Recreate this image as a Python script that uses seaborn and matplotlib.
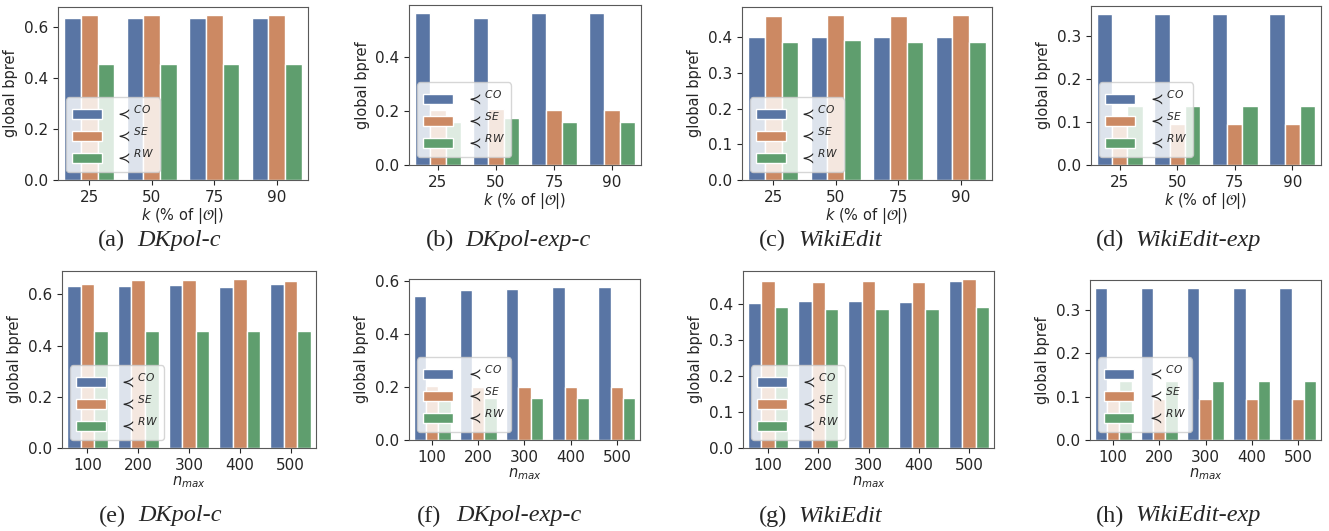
import pandas as pd
import matplotlib
matplotlib.use("Agg")
import matplotlib.pyplot as plt
import seaborn as sns

# 横轴类别
k_values = ["25", "50", "75", "90"]
nmax_values = ["100", "200", "300", "400", "500"]
methods = [r"$\prec^{CO}$", r"$\prec^{SE}$", r"$\prec^{RW}$"]

# (a) DKpol-c, k
a_co = [0.634, 0.634, 0.634, 0.634]
a_se = [0.644, 0.644, 0.645, 0.645]
a_rw = [0.455, 0.455, 0.455, 0.455]
# (b) DKpol-exp-c, k
b_co = [0.565, 0.544, 0.565, 0.565]
b_se = [0.205, 0.209, 0.204, 0.204]
b_rw = [0.159, 0.174, 0.159, 0.159]
# (c) WikiEdit, k
c_co = [0.400, 0.400, 0.400, 0.400]
c_se = [0.459, 0.461, 0.458, 0.461]
c_rw = [0.386, 0.391, 0.386, 0.386]
# (d) WikiEdit-exp, k
d_co = [0.352, 0.352, 0.352, 0.352]
d_se = [0.095, 0.095, 0.095, 0.095]
d_rw = [0.136, 0.136, 0.136, 0.136]
# (e) DKpol-c, n_max
e_co = [0.631, 0.632, 0.638, 0.628, 0.639]
e_se = [0.642, 0.655, 0.657, 0.658, 0.652]
e_rw = [0.455, 0.455, 0.455, 0.455, 0.455]
# (f) DKpol-exp-c, n_max
f_co = [0.544, 0.566, 0.570, 0.580, 0.580]
f_se = [0.203, 0.200, 0.200, 0.200, 0.200]
f_rw = [0.171, 0.157, 0.158, 0.158, 0.158]
# (g) WikiEdit, n_max
g_co = [0.402, 0.407, 0.407, 0.405, 0.464]
g_se = [0.463, 0.461, 0.464, 0.461, 0.467]
g_rw = [0.392, 0.385, 0.385, 0.385, 0.392]
# (h) WikiEdit-exp, n_max
h_co = [0.352, 0.352, 0.352, 0.352, 0.352]
h_se = [0.094, 0.094, 0.094, 0.095, 0.095]
h_rw = [0.136, 0.136, 0.136, 0.136, 0.136]

captions = ["(a)", "(b)", "(c)", "(d)", "(e)", "(f)", "(g)", "(h)"]
names = ["DKpol-c", "DKpol-exp-c", "WikiEdit", "WikiEdit-exp",
         "DKpol-c", "DKpol-exp-c", "WikiEdit", "WikiEdit-exp"]

sns.set_style("ticks")
plt.rcParams["axes.edgecolor"] = ".35"
plt.rcParams["xtick.color"] = ".15"
plt.rcParams["ytick.color"] = ".15"

W, H = 1329, 531
fig = plt.figure(figsize=(W / 100, H / 100), dpi=100)

# 子图像素位置 (left, right, top, bottom)
boxes = [(58, 308, 7, 180), (409, 641, 5, 165), (742, 992, 7, 180), (1091, 1321, 6, 165),
         (62, 316, 271, 448), (409, 640, 279, 440), (743, 994, 271, 448), (1090, 1321, 280, 440)]
cap_x = [98, 426, 759, 1096, 99, 417, 759, 1096]
cap_y = [240, 240, 240, 240, 516, 516, 516, 516]

panels = [(k_values, a_co, a_se, a_rw), (k_values, b_co, b_se, b_rw),
          (k_values, c_co, c_se, c_rw), (k_values, d_co, d_se, d_rw),
          (nmax_values, e_co, e_se, e_rw), (nmax_values, f_co, f_se, f_rw),
          (nmax_values, g_co, g_se, g_rw), (nmax_values, h_co, h_se, h_rw)]

for i, (xs, co, se, rw) in enumerate(panels):
    l, r, t, b = boxes[i]
    ax = fig.add_axes([l / W, 1 - b / H, (r - l) / W, (b - t) / H])
    df = pd.DataFrame({
        "x": xs * 3,
        "value": co + se + rw,
        "method": [methods[0]] * len(xs) + [methods[1]] * len(xs) + [methods[2]] * len(xs),
    })
    sns.barplot(data=df, x="x", y="value", hue="method", order=xs, hue_order=methods,
                palette="deep", edgecolor="white", linewidth=1, ax=ax)
    ax.legend(loc="lower left", fontsize=11, handlelength=2.0, handleheight=0.6,
              labelspacing=0.2, handletextpad=0.8, borderaxespad=0.5, borderpad=0.4)
    ax.set_ylabel("global bpref", fontsize=10.5)
    if i < 4:
        ax.set_xlabel(r"$k$ (% of $|\mathcal{O}|$)", fontsize=10.5, labelpad=1)
    else:
        ax.set_xlabel(r"$n_{max}$", fontsize=10.5, labelpad=1)
    ax.tick_params(labelsize=11)

    fig.text(cap_x[i] / W, 1 - cap_y[i] / H, captions[i], family="Liberation Serif",
             fontsize=17.5, va="center", ha="left")
    fig.text((cap_x[i] + 39) / W, 1 - cap_y[i] / H, names[i], family="Liberation Serif",
             style="italic", fontsize=17.5, va="center", ha="left")

fig.savefig("out.png", dpi=100)
